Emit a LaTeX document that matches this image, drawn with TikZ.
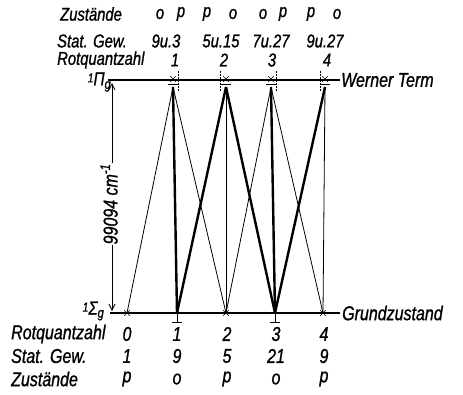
\documentclass[tikz,border=0pt]{standalone}
\usepackage{fontspec}
\setmainfont{Liberation Sans}
\newfontfamily\dinfont{Liberation Sans Italic}[FakeStretch=0.8, FakeBold=1]
\usetikzlibrary{arrows.meta,shapes.misc}
\tikzset{
  lab/.style={font=\dinfont\fontsize{18.5}{18}\selectfont, inner sep=0pt},
  blab/.style={font=\dinfont\fontsize{20}{20}\selectfont, inner sep=0pt},
  levelline/.style={line width=1.3pt},
  thintr/.style={line width=0.8pt},
  thicktr/.style={line width=2.4pt},
  xmark/.style={cross out, draw, line width=0.6pt, minimum size=5pt, inner sep=0pt},
  tick/.style={line width=0.6pt, dash pattern=on 2pt off 1pt},
  bar/.style={line width=1pt},
}
\begin{document}
\begin{tikzpicture}[x=1pt,y=-1pt]
\useasboundingbox (0,0) rectangle (463,394);
% top labels
\node[lab, anchor=west] (zt) at (60,14) {Zustände};
\node[lab, anchor=west] (st) at (57,41) {Stat. Gew.};
\node[lab, anchor=west] (rt) at (57,60) {Rotquantzahl};
\foreach \x/\t [count=\i] in {160/o,181/p,207/p,233/o,263/o,283/p,311/p,337/o}
  \node[lab] (zt\i) at (\x,14) {\t};
\foreach \x/\t [count=\i] in {166/9u.3,221/5u.15,271/7u.27,325/9u.27}
  \node[lab] (st\i) at (\x,41) {\t};
\foreach \x/\t [count=\i] in {175/1,224/2,272/3,327/4}
  \node[lab] (rt\i) at (\x,60) {\t};
% bottom labels
\node[blab, anchor=west] (rb) at (11,334) {Rotquantzahl};
\node[blab, anchor=west] (sb) at (11,356) {Stat. Gew.};
\node[blab, anchor=west] (zb) at (11,379) {Zustände};
\foreach \x/\a/\b/\c [count=\i from 0] in {127/0/1/p,177/1/9/o,227/2/5/p,276/3/21/o,324/4/9/p}{
  \node[blab] (rb\i) at (\x,334) {\a};
  \node[blab] (sb\i) at (\x,356) {\b};
  \node[blab] (zb\i) at (\x,379) {\c};
}
% levels
\coordinate (tl) at (108,80);
\coordinate (tr) at (340,80);
\coordinate (bl) at (110,313);
\coordinate (br) at (340,313);
\draw[levelline] (tl) -- (tr);
\draw[levelline] (bl) -- (br);
\node[blab, anchor=west] (wt) at (341,80) {Werner Term};
\node[blab, anchor=west] (gz) at (342,313) {Grundzustand};
\node[font=\dinfont\fontsize{19}{19}\selectfont, inner sep=0pt, anchor=east] (pig) at (111,82) {\raisebox{0.3ex}{\fontsize{13}{13}\selectfont 1}Π\raisebox{-0.35ex}{\fontsize{14}{14}\selectfont g}};
\node[font=\dinfont\fontsize{19}{19}\selectfont, inner sep=0pt, anchor=east] (sig) at (104,311) {\raisebox{0.3ex}{\fontsize{13}{13}\selectfont 1}Σ\raisebox{-0.3ex}{\fontsize{14}{14}\selectfont g}};
% top level points
\foreach \x/\tx [count=\i] in {173/178,226/220,271/276,325/320}{
  \node[xmark] (tx\i) at (\x,79) {};
  \draw[tick] (\tx,71) -- (\tx,91);
  \draw[bar] (\x-5,84) -- (\x+5,84);
  \coordinate (t\i) at (\x,87);
}
% bottom level points
\foreach \x [count=\i from 0] in {127,177,226,275,323}{
  \coordinate (b\i) at (\x,313);
}
\foreach \i in {0,2,4} \node[xmark] (bx\i) at (b\i) {};
\foreach \i in {1,3}{
  \draw[bar] (b\i) -- ++(0,9);
  \draw[bar] ([xshift=-5pt,yshift=-9pt]b\i) -- ++(10,0);
}
% transitions
\draw[thintr] (t1) -- (b0);
\draw[thicktr] (t1) -- (b1);
\draw[thintr] (t1) -- (b2);
\draw[thicktr] (t2) -- (b1);
\draw[thintr] (t2) -- (b2);
\draw[thicktr] (t2) -- (b3);
\draw[thintr] (t3) -- (b2);
\draw[thicktr] (t3) -- (b3);
\draw[thintr] (t3) -- (b4);
\draw[thicktr] (t4) -- (b3);
\draw[thintr] (t4) -- (b4);
% dimension arrow
\coordinate (dtop) at (112,83);
\coordinate (dbot) at (112,311);
\draw[line width=0.8pt, {Straight Barb[length=6pt,width=6pt]}-{Straight Barb[length=6pt,width=6pt]}] (dtop) -- (dbot);
\node[font=\dinfont\fontsize{20}{20}\selectfont, fill=white, inner sep=1pt, rotate=90] (dim) at (109,204) {99094 cm\textsuperscript{-1}};
\end{tikzpicture}
\end{document}
